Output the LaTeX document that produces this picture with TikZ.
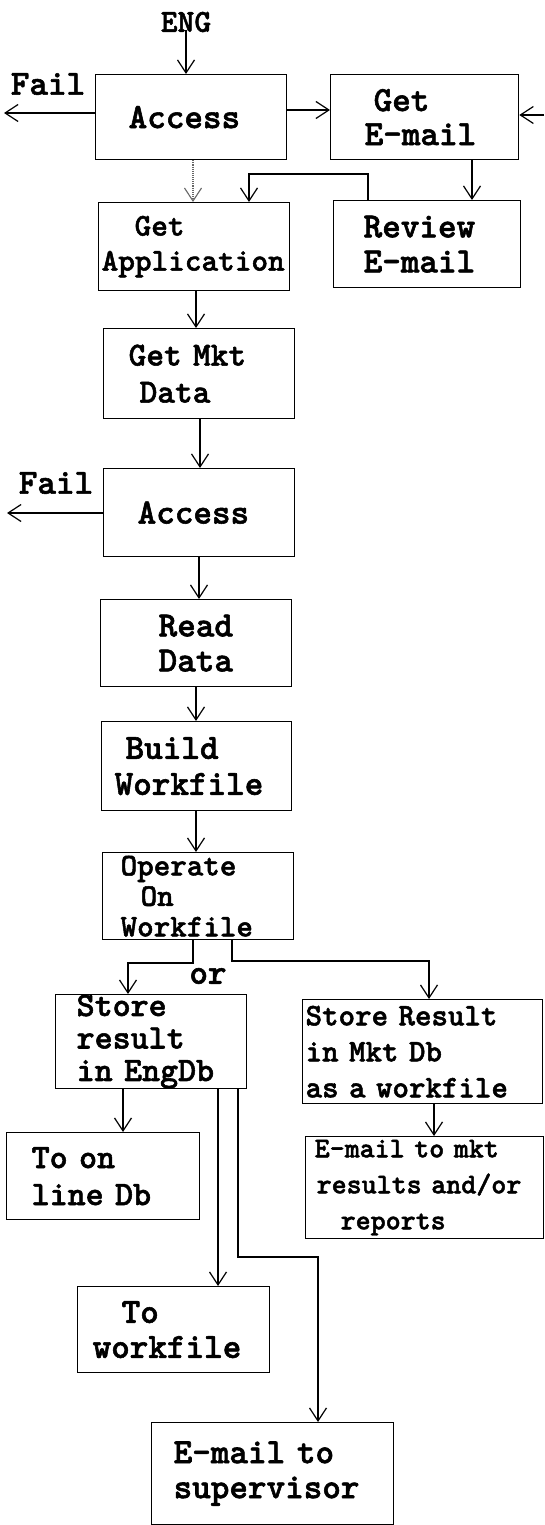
\documentclass[tikz,border=0pt]{standalone}
\usepackage{fontspec}
\newfontfamily\twbold{lmmonolt10-bold.otf}[FakeBold=1.6]
\usetikzlibrary{arrows.meta}
\newcommand{\ind}[1]{\hspace*{#1pt}}
\begin{document}
\begin{tikzpicture}[x=1pt,y=-1pt,
  ft/.style 2 args={font=\twbold\fontsize{#1}{#2}\selectfont},
  bx/.style n args={2}{draw, line width=1.3pt, anchor=north west,
    inner xsep=0pt, inner ysep=0pt, align=left,
    minimum width=#1, text width=#1, minimum height=#2},
  lbl/.style={inner sep=0pt},
  arr/.style={line width=1.2pt, -{Straight Barb[length=13pt,width=17pt]}},
  dotarr/.style={line width=1.1pt, densely dotted, draw=black!60,
    -{Straight Barb[length=13pt,width=17pt]}}]
\useasboundingbox[fill=white] (0,0) rectangle (544,1525);

% ---- boxes ----
\node[bx={191pt}{85pt}, ft={35.4}{35}] (acc1) at (95,74) {\ind{33}Access};
\node[bx={188pt}{85pt}, ft={35.4}{34}] (getm) at (330,74) {\ind{43}Get\\\ind{34}E-mail};
\node[bx={187pt}{87pt}, ft={35.4}{35}] (revm) at (333,200) {\ind{30}Review\\\ind{30}E-mail};
\node[bx={191pt}{88pt}, ft={31.7}{35}] (app) at (98,202) {\ind{36}Get\\\ind{3}Application};
\node[bx={191pt}{90pt}, ft={33.7}{37}] (mkt) at (103,328) {\ind{25}Get Mkt\\\ind{36}Data};
\node[bx={191pt}{88pt}, ft={35.4}{35}] (acc2) at (103,468) {\ind{34}Access};
\node[bx={191pt}{87pt}, ft={35.4}{35}] (read) at (100,599) {\ind{58}Read\\\ind{58}Data};
\node[bx={190pt}{89pt}, ft={35.4}{36}] (build) at (101,721) {\ind{24}Build\\\ind{13}Workfile};
\node[bx={191pt}{87pt}, ft={31.5}{30.5}] (oper) at (102,852) {\ind{18}Operate\\\ind{38}On\\\ind{18}Workfile};
\node[bx={191pt}{90pt}, ft={34.3}{32.5}] (steng) at (55,994) {\ind{21}Store\\\ind{21}result\\\ind{21}in EngDb};
\node[bx={240pt}{104pt}, ft={31.4}{36}] (stmkt) at (302,999) {\ind{3}Store Result\\\ind{3}in Mkt Db\\\ind{3}as a workfile};
\node[bx={193pt}{87pt}, ft={34.3}{37}] (online) at (6,1132) {\ind{25}To on\\\ind{25}line Db};
\node[bx={238pt}{102pt}, ft={28.6}{36}] (emkt) at (305,1136) {\ind{9}E-mail to mkt\\\ind{11}results and/or\\\ind{35}reports};
\node[bx={192pt}{86pt}, ft={35.4}{35}] (towf) at (77,1286) {\ind{44}To\\\ind{15}workfile};
\node[bx={242pt}{102pt}, ft={35.4}{35}] (sup) at (151,1422) {\ind{22}E-mail to\\\ind{22}supervisor};

% ---- free labels ----
\node[lbl, ft={32}{30}] (eng) at (186,22) {ENG};
\node[lbl, ft={35.4}{35}] (fail1) at (48,84) {Fail};
\node[lbl, ft={35.4}{35}] (fail2) at (56,483) {Fail};
\node[lbl, ft={35.4}{35}] (orlbl) at (208,976) {or};

% ---- routing points ----
\coordinate (f1end) at (4,113);
\coordinate (f2end) at (7,513);
\coordinate (ae) at (0,110);
\coordinate (rin) at (544,115);
\coordinate (gx) at (472,0);
\coordinate (dx) at (193,0);
\coordinate (rx) at (368,0);
\coordinate (bend1) at (249,174);
\coordinate (ax) at (196,0);
\coordinate (mx) at (200,0);
\coordinate (a2x) at (199,0);
\coordinate (ox1) at (193,0);
\coordinate (ob1) at (128,963);
\coordinate (ox2) at (232,0);
\coordinate (ob2) at (429,961);
\coordinate (sx1) at (123,0);
\coordinate (sx2) at (218,0);
\coordinate (sx3) at (238,0);
\coordinate (sb) at (318,1257);
\coordinate (kx) at (434,0);

% ---- connectors ----
\draw[arr] (eng.south) ++(0,-2) -- (eng.south |- acc1.north);
\draw[arr] (acc1.west |- f1end) -- (f1end);
\draw[arr] (acc1.east |- ae) -- (getm.west |- ae);
\draw[arr] (rin) -- (rin -| getm.east);
\draw[arr] (getm.south -| gx) -- (revm.north -| gx);
\draw[dotarr] (acc1.south -| dx) -- (app.north -| dx);
\draw[arr] (revm.north -| rx) |- (bend1) -- (app.north -| bend1);
\draw[arr] (app.south -| ax) -- (mkt.north -| ax);
\draw[arr] (mkt.south -| mx) -- (acc2.north -| mx);
\draw[arr] (acc2.west |- f2end) -- (f2end);
\draw[arr] (acc2.south -| a2x) -- (read.north -| a2x);
\draw[arr] (read.south -| ax) -- (build.north -| ax);
\draw[arr] (build.south -| ax) -- (oper.north -| ax);
\draw[arr] (oper.south -| ox1) |- (ob1) -- (steng.north -| ob1);
\draw[arr] (oper.south -| ox2) |- (ob2) -- (stmkt.north -| ob2);
\draw[arr] (steng.south -| sx1) -- (online.north -| sx1);
\draw[arr] (steng.south -| sx2) -- (towf.north -| sx2);
\draw[arr] (steng.south -| sx3) |- (sb) -- (sup.north -| sb);
\draw[arr] (stmkt.south -| kx) -- (emkt.north -| kx);
\end{tikzpicture}
\end{document}
